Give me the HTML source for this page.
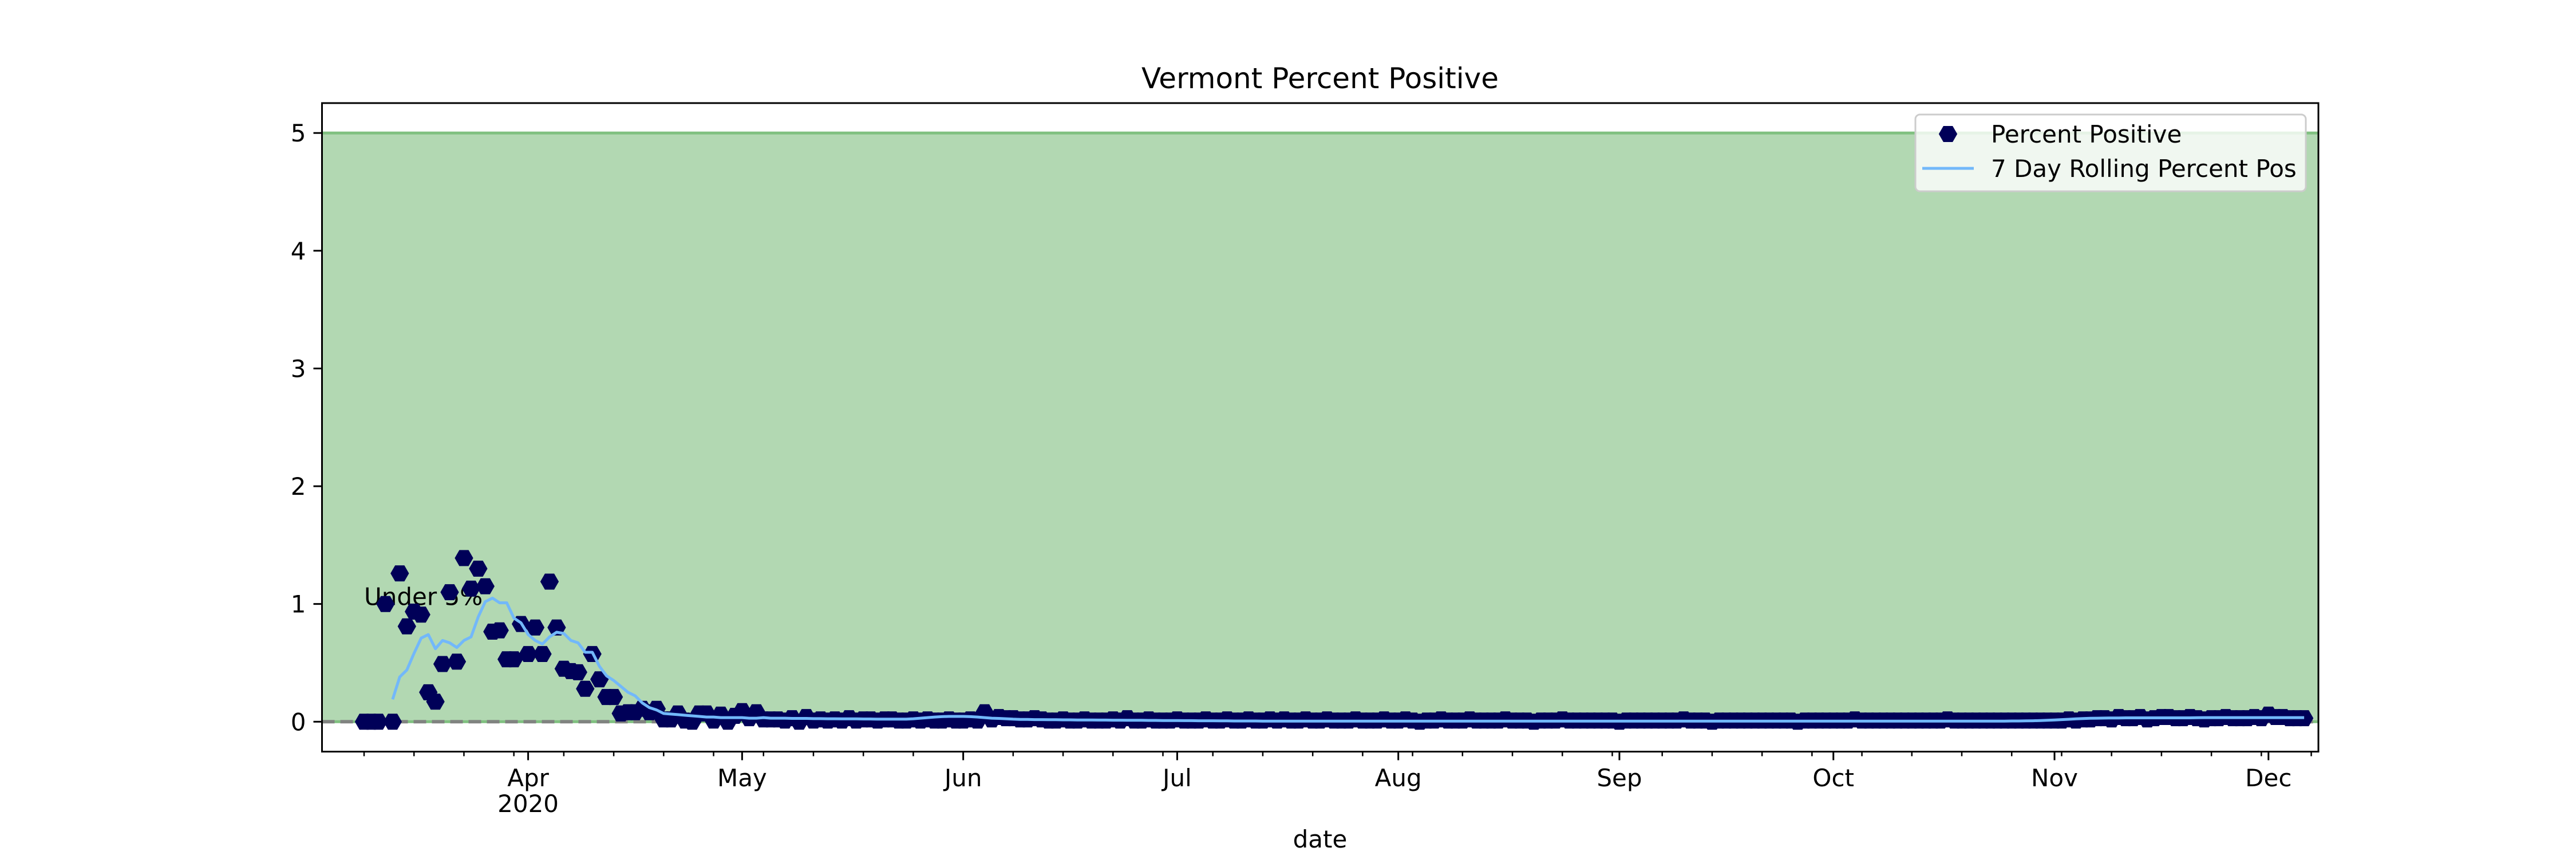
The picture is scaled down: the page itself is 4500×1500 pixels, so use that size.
<!DOCTYPE html>
<html><head><meta charset="utf-8">
<style>
html,body{margin:0;padding:0;background:#fff;}
svg{display:block;font-family:"DejaVu Sans","Liberation Sans",sans-serif;}
</style></head>
<body>
<svg id="chart" width="4500" height="1500" viewBox="0 0 4500 1500" xmlns="http://www.w3.org/2000/svg">
<rect width="4500" height="1500" fill="#fff"/>
<text x="2306" y="154" font-size="50" text-anchor="middle" fill="#000">Vermont Percent Positive</text>
<g id="plot"></g>
<text x="2306" y="1480" font-size="42" text-anchor="middle" fill="#000">date</text>
</svg>
<script>
// ---- data ----
const pctStartDay = 8;   // day index from 2020-03-01 (Mar 9)
const pctValues = [
0,0,0,1.0,0,1.26,0.81,0.935,0.91,0.25,0.17,0.49,1.10,0.51,1.39,1.13,1.30,1.15,0.765,0.776,0.53,0.53,0.83,0.575,0.80,0.575,1.19,0.80,0.45,0.43,0.42,0.28,0.575,0.36,0.21,0.21,0.07,0.08,0.08,0.11,0.08,0.11,0.02,0.02,
0.07,0.01,0.00,0.07,0.07,0.01,0.06,0.00,0.05,0.09,
0.03,0.08,0.02,0.02,0.02,0.01,0.03,0.00,0.04,0.01,
0.02,0.01,0.02,0.01,0.03,0.01,0.02,0.02,0.01,0.02,
0.02,0.01,0.01,0.02,0.01,0.02,0.01,0.01,0.02,0.01,
0.01,0.02,0.01,0.08,0.02,0.04,0.03,0.03,0.02,0.02,
0.03,0.02,0.01,0.01,0.02,0.01,0.01,0.02,0.01,0.01,
0.01,0.02,0.01,0.03,0.01,0.01,0.02,0.01,0.01,0.01,
0.02,0.01,0.01,0.01,0.02,0.01,0.01,0.02,0.01,0.01,
0.02,0.01,0.01,0.02,0.01,0.02,0.01,0.01,0.02,0.01,
0.01,0.02,0.01,0.01,0.01,0.02,0.01,0.01,0.01,0.02,
0.01,0.01,0.02,0.01,0.00,0.01,0.01,0.02,0.01,0.01,
0.01,0.02,0.01,0.01,0.01,0.01,0.02,0.01,0.01,0.01,
0.00,0.01,0.01,0.01,0.02,0.01,0.01,0.01,0.01,0.01,
0.01,0.01,0.00,0.01,0.01,0.01,0.01,0.01,0.01,0.01,
0.01,0.02,0.01,0.01,0.01,0.00,0.01,0.01,0.01,0.01,
0.01,0.01,0.01,0.01,0.01,0.01,0.01,0.00,0.01,0.01,
0.01,0.01,0.01,0.01,0.01,0.02,0.01,0.01,0.01,0.01,
0.01,0.01,0.01,0.01,0.01,0.01,0.01,0.01,0.02,0.01,
0.01,0.01,0.01,0.01,0.01,0.01,0.01,0.01,0.01,0.01,
0.01,0.01,0.01,0.01,0.01,0.02,0.01,0.02,0.02,0.03,
0.03,0.02,0.04,0.03,0.03,0.04,0.02,0.03,0.04,0.04,
0.03,0.03,0.04,0.03,0.02,0.03,0.03,0.04,0.03,0.03,
0.03,0.04,0.03,0.06,0.04,0.04,0.03,0.03,0.03
];
const rollStartDay = 12;
const rollValues = [
0.19,0.38,0.44,0.58,0.71,0.74,0.62,0.69,0.67,0.63,0.69,0.72,0.89,1.02,1.05,1.01,1.01,0.88,0.84,0.74,0.69,0.66,0.72,0.76,0.75,0.69,0.67,0.59,0.59,0.47,0.39,0.35,0.30,0.25,0.22,0.16,0.12,0.10,0.07,0.065,
0.06,0.055,0.05,0.045,0.04,0.04,0.035,0.035,0.035,0.035,
0.03,0.03,0.035,0.03,0.03,0.03,0.028,0.028,0.028,0.026,
0.026,0.025,0.025,0.024,0.024,0.024,0.023,0.023,0.022,0.022,
0.022,0.022,0.022,0.025,0.03,0.035,0.04,0.043,0.045,0.045,
0.045,0.043,0.04,0.035,0.03,0.028,0.025,0.022,0.02,0.02,
0.018,0.018,0.017,0.017,0.016,0.016,0.015,0.015,0.015,0.014,
0.014,0.013,0.013,0.012,0.012,0.012,0.011,0.011,0.01,0.01,
0.01,0.009,0.009,0.008,0.008,0.008,0.007,0.007,0.006,0.006,
0.006,0.006,0.005,0.005,0.005,0.005,0.005,0.005,0.005,0.005,
0.005,0.005,0.005,0.005,0.005,0.005,0.005,0.005,0.005,0.005,
0.005,0.005,0.005,0.005,0.005,0.005,0.005,0.005,0.005,0.005,
0.005,0.005,0.005,0.005,0.005,0.005,0.005,0.005,0.005,0.005,
0.005,0.005,0.005,0.005,0.005,0.005,0.005,0.005,0.005,0.005,
0.005,0.005,0.005,0.005,0.005,0.005,0.005,0.005,0.005,0.005,
0.005,0.005,0.005,0.005,0.005,0.005,0.005,0.005,0.005,0.005,
0.005,0.005,0.005,0.005,0.005,0.005,0.005,0.005,0.005,0.005,
0.005,0.005,0.005,0.005,0.005,0.005,0.005,0.005,0.005,0.005,
0.005,0.005,0.005,0.005,0.005,0.005,0.005,0.005,0.005,0.005,
0.005,0.005,0.005,0.005,0.005,0.005,0.005,0.006,0.006,0.007,
0.008,0.01,0.012,0.015,0.018,0.021,0.024,0.027,0.029,0.03,
0.031,0.032,0.032,0.033,0.033,0.033,0.033,0.033,0.033,0.033,
0.033,0.033,0.033,0.034,0.035,0.035,0.035,0.035,0.035,0.035,
0.035,0.035,0.035,0.035,0.035,0.035,0.035,0.035,0.035
];
const yTickValues = [0,1,2,3,4,5];
const monthLabels = ["Apr","May","Jun","Jul","Aug","Sep","Oct","Nov","Dec"];
const monthStartDays = [31,61,92,122,153,184,214,245,275];
const thresholdValue = 5;

// ---- axes ----
const L=562.5, R=4050, T=180, B=1312.5;
const xMin=2.1, xMax=282.0, yMin=-0.254, yMax=5.254;
const X=d=>L+(d-xMin)/(xMax-xMin)*(R-L);
const Y=v=>B-(v-yMin)/(yMax-yMin)*(B-T);
const NS="http://www.w3.org/2000/svg";
const plot=document.getElementById('plot');
function mk(tag,attrs,parent){const e=document.createElementNS(NS,tag);for(const k in attrs)e.setAttribute(k,attrs[k]);(parent||plot).appendChild(e);return e;}

const fill=mk('rect',{x:L,y:Y(thresholdValue),width:R-L,height:Y(0)-Y(thresholdValue),fill:'#b2d8b2'});


const topLine=mk('line',{x1:L,x2:R,y1:Y(thresholdValue),y2:Y(thresholdValue),stroke:'#80c080','stroke-width':5});


const zl=mk('line',{x1:L,x2:R,y1:Y(0),y2:Y(0),stroke:'#80c080','stroke-width':5});


const dash=mk('line',{x1:L,x2:R,y1:Y(0),y2:Y(0),stroke:'#808080','stroke-width':6,'stroke-dasharray':'22 10','stroke-opacity':0.95});



const ann=mk('text',{x:X(pctStartDay),y:Y(1)+2,'font-size':42,fill:'#000'});
ann.textContent='Under 5%';



function hex(cx,cy,r){let p=[];for(let i=0;i<6;i++){const a=Math.PI/3*i;p.push((cx+r*Math.cos(a)).toFixed(1)+','+(cy+r*Math.sin(a)).toFixed(1));}return p.join(' ');}
const pg=mk('g',{});


pctValues.forEach((v,i)=>{
  const h=mk('polygon',{points:hex(X(pctStartDay+i),Y(v),15),fill:'#000058',stroke:'#000058','stroke-width':2},pg);
  
  
});
const rl=mk('polyline',{points:rollValues.map((v,i)=>X(rollStartDay+i).toFixed(1)+','+Y(v).toFixed(1)).join(' '),fill:'none',stroke:'#72b8fa','stroke-width':5,'stroke-linejoin':'round'});



const fr=mk('rect',{x:L,y:T,width:R-L,height:B-T,fill:'none',stroke:'#000','stroke-width':3});



yTickValues.forEach(v=>{
  const t=mk('line',{x1:L-15,x2:L,y1:Y(v),y2:Y(v),stroke:'#000','stroke-width':3});
  
  
  const tx=mk('text',{x:L-28,y:Y(v)+15,'font-size':42,'text-anchor':'end',fill:'#000'});
  tx.textContent=String(v);
  
  
});
for(let d=8; d<=xMax; d+=7){
  const t=mk('line',{x1:X(d),x2:X(d),y1:B,y2:B+8,stroke:'#000','stroke-width':2.5});
  
  
}
monthStartDays.forEach((d,i)=>{
  const t=mk('line',{x1:X(d),x2:X(d),y1:B,y2:B+15,stroke:'#000','stroke-width':3});
  
  
  const tx=mk('text',{x:X(d),y:1373,'font-size':42,'text-anchor':'middle',fill:'#000'});
  tx.textContent=monthLabels[i];
  
  
});
const yr=mk('text',{x:X(monthStartDays[0]),y:1418,'font-size':42,'text-anchor':'middle',fill:'#000'});
yr.textContent='2020';



const lg=mk('g',{});


mk('rect',{x:3346,y:200,width:682,height:134,rx:8,fill:'#ffffff','fill-opacity':0.8,stroke:'#cccccc','stroke-width':3},lg);
const lm=mk('polygon',{points:hex(3403,234,15),fill:'#000058',stroke:'#000058','stroke-width':2},lg);


const lt1=mk('text',{x:3478,y:249,'font-size':42,fill:'#000'},lg);
lt1.textContent='Percent Positive';


const ll=mk('line',{x1:3358,x2:3448,y1:294,y2:294,stroke:'#72b8fa','stroke-width':5},lg);


const lt2=mk('text',{x:3478,y:309,'font-size':42,fill:'#000'},lg);
lt2.textContent='7 Day Rolling Percent Pos';


</script>
</body></html>
